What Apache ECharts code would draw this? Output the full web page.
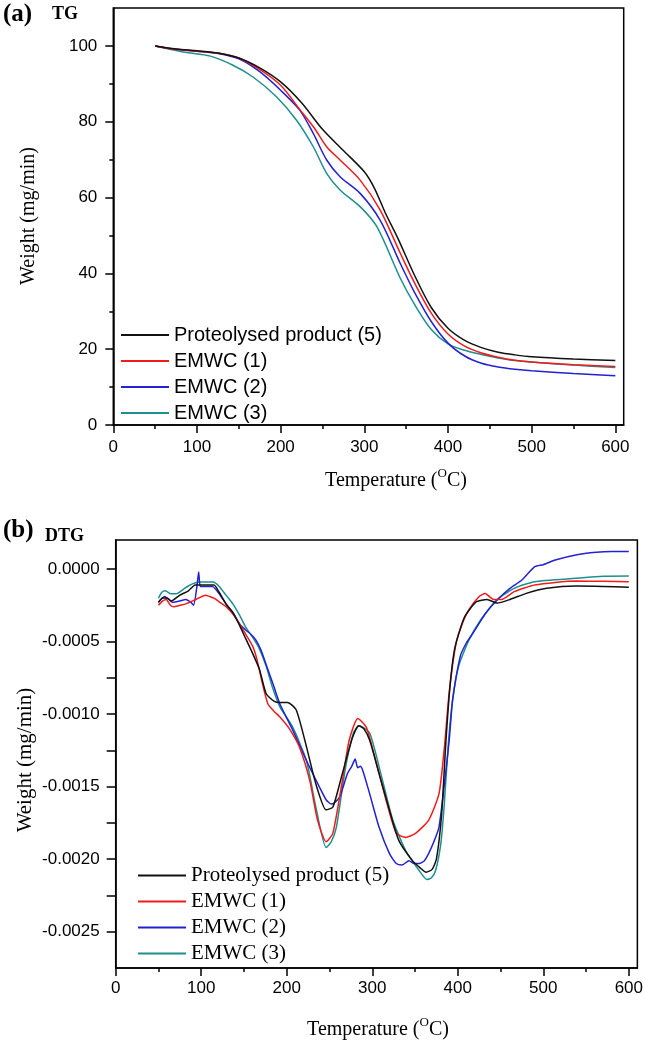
<!DOCTYPE html>
<html><head><meta charset="utf-8">
<script src="https://cdn.jsdelivr.net/npm/echarts@6/dist/echarts.min.js"></script>
<style>html,body{margin:0;padding:0;background:#fff}#c{width:646px;height:1041px}</style>
</head><body><div id="c"></div>
<script>
const seriesNames = ['Proteolysed product (5)', 'EMWC (1)', 'EMWC (2)', 'EMWC (3)'];
const seriesColors = ['#111111', '#f01c1c', '#2222d2', '#1f8e8e'];

const xTicks = [0, 100, 200, 300, 400, 500, 600];
const xMinorTicks = [50, 150, 250, 350, 450, 550];
const tgYTicks = [0, 20, 40, 60, 80, 100];
const tgYMinorTicks = [10, 30, 50, 70, 90];
const dtgYLabels = [0, -0.0005, -0.001, -0.0015, -0.002, -0.0025];
const dtgYTicks = [0, -0.00025, -0.0005, -0.00075, -0.001, -0.00125, -0.0015, -0.00175, -0.002, -0.00225, -0.0025];

// TG curves: [temperature, weight]
const tgBlack = [[50,100],[75,99.2],[100,98.7],[125,98.1],[150,96.8],[175,94.2],[200,90.5],[225,85.0],[250,78.0],[275,72.4],[300,66.8],[312,62.5],[325,56.0],[340,49.3],[360,39.5],[380,31.0],[400,25.5],[420,22.3],[440,20.4],[460,19.2],[480,18.5],[500,18.0],[550,17.4],[600,17.0]];
const tgRed = [[50,100],[75,99.1],[100,98.6],[125,98.1],[150,96.8],[175,93.8],[200,89.6],[223,83.2],[240,78.4],[255,73.4],[271,69.9],[295,64.6],[319,56.7],[343,45.3],[360,37.5],[380,29.5],[400,24.0],[420,20.8],[440,19.0],[460,17.9],[480,17.1],[500,16.6],[550,15.9],[600,15.4]];
const tgBlue = [[50,100],[75,99.1],[100,98.6],[125,98.0],[150,96.6],[175,93.2],[200,88.3],[223,83.0],[239,76.9],[255,69.9],[271,65.5],[295,61.1],[319,54.0],[343,42.6],[360,35.0],[380,27.3],[400,21.6],[420,18.2],[440,16.3],[460,15.3],[480,14.7],[500,14.3],[550,13.6],[600,13.0]];
const tgTeal = [[50,100],[84,98.4],[116,97.3],[143,94.9],[167,91.8],[195,86.6],[219,80.4],[239,73.4],[255,66.4],[271,62.0],[295,57.6],[315,52.3],[343,38.7],[360,31.8],[380,25.2],[400,21.4],[420,19.7],[440,18.6],[460,17.7],[480,17.0],[500,16.6],[550,15.8],[600,15.2]];

// DTG curves: [temperature, derivative weight]
const dtgBlack = [[50,-0.00023],[55,-0.00020],[60,-0.00020],[65,-0.00022],[75,-0.00018],[85,-0.00015],[93,-0.00011],[100,-0.00011],[110,-0.00011],[115,-0.00011],[121,-0.00016],[130,-0.00025],[137,-0.00030],[145,-0.00039],[152,-0.00048],[160,-0.00058],[168,-0.00069],[176,-0.00086],[185,-0.00091],[192,-0.00092],[201,-0.00092],[211,-0.00097],[222,-0.00120],[234,-0.00148],[246,-0.00166],[254,-0.00164],[265,-0.00141],[277,-0.00116],[284,-0.00108],[290,-0.00110],[297,-0.00118],[308,-0.00141],[320,-0.00166],[331,-0.00187],[347,-0.00201],[356,-0.00206],[363,-0.00209],[370,-0.00207],[375,-0.00200],[381,-0.00170],[386,-0.00120],[391,-0.00080],[396,-0.00056],[402,-0.00043],[408,-0.00033],[415,-0.00027],[422,-0.000225],[434,-0.00021],[446,-0.000235],[461,-0.00021],[480,-0.000168],[504,-0.000133],[538,-0.000117],[570,-0.00012],[600,-0.000126]];
const dtgRed = [[50,-0.00025],[55,-0.00022],[59,-0.00021],[64,-0.00025],[68,-0.00026],[75,-0.00025],[82,-0.00024],[90,-0.00022],[97,-0.00020],[105,-0.00018],[110,-0.00019],[115,-0.00020],[122,-0.00023],[129,-0.00026],[137,-0.00031],[144,-0.00037],[152,-0.00045],[160,-0.00053],[165,-0.00062],[172,-0.00080],[178,-0.00093],[185,-0.00098],[192,-0.00102],[203,-0.00110],[215,-0.00123],[227,-0.00146],[236,-0.00173],[246,-0.00188],[254,-0.00182],[265,-0.00146],[273,-0.00118],[283,-0.00103],[293,-0.00109],[304,-0.00132],[316,-0.00159],[328,-0.00182],[339,-0.00185],[351,-0.00182],[366,-0.00173],[378,-0.00155],[384,-0.00125],[390,-0.00085],[398,-0.00051],[405,-0.00038],[413,-0.00028],[425,-0.00019],[432,-0.000168],[437,-0.00019],[442,-0.00021],[451,-0.00021],[466,-0.000156],[490,-0.00011],[538,-0.000083],[570,-0.000085],[600,-0.000087]];
const dtgBlue = [[50,-0.00023],[57,-0.00019],[62,-0.00021],[67,-0.00023],[75,-0.00022],[82,-0.00021],[88,-0.00023],[91,-0.00025],[95,-0.00012],[97,-0.00002],[99,-0.00012],[105,-0.00012],[113,-0.00012],[121,-0.00017],[129,-0.00024],[137,-0.00030],[145,-0.00038],[152,-0.00042],[158,-0.00045],[164,-0.00049],[170,-0.00056],[176,-0.00066],[185,-0.00081],[192,-0.00093],[207,-0.00111],[223,-0.00132],[238,-0.00150],[246,-0.00159],[252,-0.00162],[256,-0.00161],[262,-0.00157],[271,-0.00141],[276,-0.00136],[280,-0.00131],[283,-0.00137],[286,-0.00136],[289,-0.00139],[297,-0.00155],[308,-0.00178],[320,-0.00196],[328,-0.00203],[335,-0.00204],[343,-0.00201],[349,-0.00203],[355,-0.00203],[361,-0.00201],[366,-0.00196],[372,-0.00188],[378,-0.00178],[384,-0.00150],[390,-0.00118],[394,-0.00090],[403,-0.00060],[410,-0.00051],[418,-0.00044],[432,-0.00031],[446,-0.000214],[461,-0.000133],[475,-0.000076],[490,0.000016],[500,0.00003],[514,0.000062],[538,0.000097],[562,0.000115],[580,0.00012],[600,0.00012]];
const dtgTeal = [[50,-0.00020],[54,-0.00016],[58,-0.00015],[64,-0.00017],[71,-0.00017],[79,-0.00014],[87,-0.00011],[98,-0.00009],[107,-0.00009],[114,-0.00009],[121,-0.00012],[129,-0.00018],[137,-0.00024],[145,-0.00032],[152,-0.00040],[160,-0.00047],[168,-0.00055],[176,-0.00067],[183,-0.00081],[192,-0.00095],[207,-0.00109],[223,-0.00132],[234,-0.00164],[246,-0.00192],[252,-0.00188],[258,-0.00178],[269,-0.00136],[278,-0.00113],[285,-0.00108],[297,-0.00113],[310,-0.00141],[324,-0.00173],[339,-0.00194],[355,-0.00208],[364,-0.00214],[369,-0.00213],[374,-0.00208],[380,-0.00190],[384,-0.00164],[389,-0.00120],[394,-0.00090],[401,-0.00067],[413,-0.00049],[427,-0.00035],[446,-0.00021],[466,-0.000133],[490,-0.000087],[538,-0.000064],[570,-0.00005],[600,-0.000048]];

const tgData = [tgBlack, tgRed, tgBlue, tgTeal];
const dtgData = [dtgBlack, dtgRed, dtgBlue, dtgTeal];

const SANS = 'Liberation Sans';
const SERIF = 'Liberation Serif';
const AX = { color: '#000', width: 1.5 };

function mainX(grid) {
  return {
    type: 'value', gridIndex: grid, min: 0, max: 610, position: 'bottom',
    axisLine: { show: true, onZero: false, lineStyle: AX },
    axisTick: { show: true, length: 8, lineStyle: AX, customValues: xTicks },
    axisLabel: { customValues: xTicks, color: '#000', fontFamily: SANS, fontSize: 17, margin: grid === 0 ? 14 : 12 },
    splitLine: { show: false }
  };
}
function minorX(grid) {
  return {
    type: 'value', gridIndex: grid, min: 0, max: 610, position: 'bottom',
    axisLine: { show: false, onZero: false },
    axisTick: { show: true, length: 4, lineStyle: AX, customValues: xMinorTicks },
    axisLabel: { show: false }, splitLine: { show: false }
  };
}

const option = {
  animation: false,
  backgroundColor: '#fff',
  grid: [
    { left: 113.3, top: 8, width: 510.4, height: 417, show: true, borderColor: '#000', borderWidth: 1.5, containLabel: false },
    { left: 115.7, top: 540, width: 522.6, height: 428, show: true, borderColor: '#000', borderWidth: 1.5, containLabel: false }
  ],
  xAxis: [mainX(0), minorX(0), mainX(1), minorX(1)],
  yAxis: [
    {
      type: 'value', gridIndex: 0, min: 0, max: 110, position: 'left',
      axisLine: { show: true, onZero: false, lineStyle: AX },
      axisTick: { show: true, length: 8, lineStyle: AX, customValues: tgYTicks },
      axisLabel: { customValues: tgYTicks, color: '#000', fontFamily: SANS, fontSize: 17, margin: 16 },
      splitLine: { show: false }
    },
    {
      type: 'value', gridIndex: 0, min: 0, max: 110, position: 'left',
      axisLine: { show: false, onZero: false },
      axisTick: { show: true, length: 4, lineStyle: AX, customValues: tgYMinorTicks },
      axisLabel: { show: false }, splitLine: { show: false }
    },
    {
      type: 'value', gridIndex: 1, min: -0.00275, max: 0.0002, position: 'left',
      axisLine: { show: true, onZero: false, lineStyle: AX },
      axisTick: { show: true, length: 9, lineStyle: AX, customValues: dtgYTicks },
      axisLabel: { customValues: dtgYLabels, color: '#000', fontFamily: SANS, fontSize: 17, margin: 16,
        formatter: v => (Math.abs(v) < 1e-12 ? 0 : v).toFixed(4) },
      splitLine: { show: false }
    }
  ],
  legend: [
    {
      orient: 'vertical', left: 116, top: 320, itemWidth: 48, itemHeight: 2, itemGap: 6, icon: 'rect',
      data: seriesNames, selectedMode: false,
      textStyle: { fontFamily: SANS, fontSize: 20, color: '#000', lineHeight: 20 }
    },
    {
      orient: 'vertical', left: 133, top: 860, itemWidth: 48, itemHeight: 2, itemGap: 5, icon: 'rect',
      data: seriesNames, selectedMode: false,
      textStyle: { fontFamily: SERIF, fontSize: 21, color: '#000', lineHeight: 21 }
    }
  ],
  graphic: [
    { type: 'text', left: 3, top: 2, style: { text: '(a)', font: 'bold 25px "Liberation Serif"', fill: '#000' } },
    { type: 'text', left: 52, top: 5, style: { text: 'TG', font: 'bold 18px "Liberation Serif"', fill: '#000' } },
    { type: 'text', left: 3, top: 518, style: { text: '(b)', font: 'bold 25px "Liberation Serif"', fill: '#000' } },
    { type: 'text', left: 45, top: 527, style: { text: 'DTG', font: 'bold 18px "Liberation Serif"', fill: '#000' } },
    { type: 'text', x: 396, y: 479, style: {
        text: '{a|Temperature (}{s|O}{a|C)}', align: 'center', verticalAlign: 'middle', textAlign: 'center', textVerticalAlign: 'middle',
        rich: { a: { fontFamily: SERIF, fontSize: 20, lineHeight: 24, verticalAlign: 'bottom' }, s: { fontFamily: SERIF, fontSize: 13, lineHeight: 24, verticalAlign: 'top' } } } },
    { type: 'text', x: 378, y: 1028, style: {
        text: '{a|Temperature (}{s|O}{a|C)}', align: 'center', verticalAlign: 'middle', textAlign: 'center', textVerticalAlign: 'middle',
        rich: { a: { fontFamily: SERIF, fontSize: 20, lineHeight: 24, verticalAlign: 'bottom' }, s: { fontFamily: SERIF, fontSize: 13, lineHeight: 24, verticalAlign: 'top' } } } },
    { type: 'text', x: 29, y: 216, rotation: Math.PI / 2, style: {
        text: 'Weight (mg/min)', font: '20px "Liberation Serif"', fill: '#000', align: 'center', verticalAlign: 'middle', textAlign: 'center', textVerticalAlign: 'middle' } },
    { type: 'text', x: 25, y: 760, rotation: Math.PI / 2, style: {
        text: 'Weight (mg/min)', font: '21px "Liberation Serif"', fill: '#000', align: 'center', verticalAlign: 'middle', textAlign: 'center', textVerticalAlign: 'middle' } }
  ],
  series: []
};

seriesNames.forEach((name, i) => {
  option.series.push({
    name, type: 'line', xAxisIndex: 0, yAxisIndex: 0, data: tgData[i],
    showSymbol: false, symbol: 'none', smooth: 0.3, color: seriesColors[i],
    lineStyle: { width: 1.5, color: seriesColors[i] }, z: 10 - i
  });
});
seriesNames.forEach((name, i) => {
  option.series.push({
    name, type: 'line', xAxisIndex: 2, yAxisIndex: 2, data: dtgData[i],
    showSymbol: false, symbol: 'none', smooth: 0.2, color: seriesColors[i],
    lineStyle: { width: 1.5, color: seriesColors[i] }, z: 10 - i
  });
});

const chart = echarts.init(document.getElementById('c'), null, { renderer: 'canvas' });
chart.setOption(option);
</script>
</body></html>
